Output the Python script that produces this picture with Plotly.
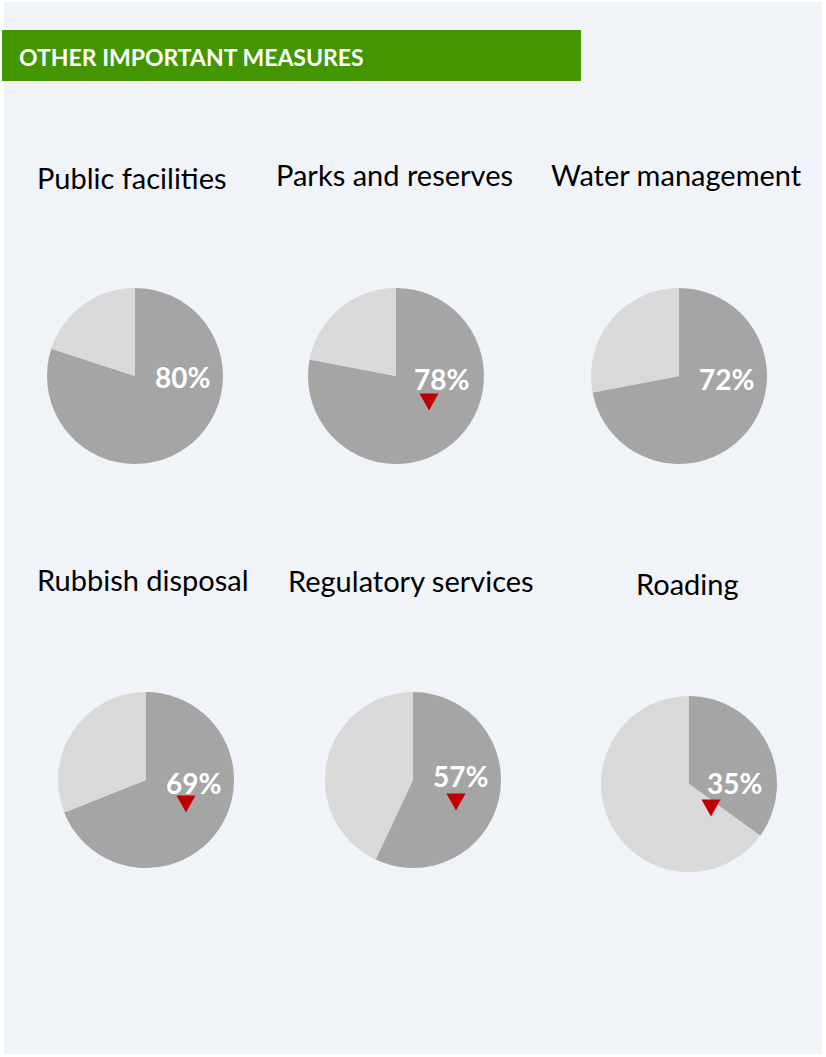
import plotly.graph_objects as go

W, H = 826, 1057

# data
measures = ["Public facilities", "Parks and reserves", "Water management",
            "Rubbish disposal", "Regulatory services", "Roading"]
satisfied = [80, 78, 72, 69, 57, 35]
declined = [False, True, False, True, True, True]

header = "OTHER IMPORTANT MEASURES"

# layout (pixels)
centers = [(135, 376), (396, 376), (679, 376), (146, 780), (413, 780), (689, 784)]
radius = 88
title_pos = [(132, 177), (394, 175), (676, 175), (143, 579), (411, 580), (687, 583)]
label_off = [(47, 1), (45, 3), (47, 3), (47, 3), (47, -4), (45, -1)]
tri_off = [(35, 25), (33, 26), (35, 25), (40, 24), (43, 22), (22, 24)]
TRI_W, TRI_H = 19, 17

DARK = "#A5A5A5"
LIGHT = "#D9D9D9"
FONT = "Lato"


def px(x):
    return x / W


def py(y):
    return 1 - y / H


fig = go.Figure()

for name, val, (cx, cy) in zip(measures, satisfied, centers):
    fig.add_trace(go.Pie(
        values=[val, 100 - val],
        labels=["Satisfied", "Other"],
        sort=False,
        direction="clockwise",
        rotation=0,
        marker=dict(colors=[DARK, LIGHT], line=dict(width=0)),
        textinfo="none",
        hoverinfo="label+percent",
        showlegend=False,
        domain=dict(x=[px(cx - radius), px(cx + radius)],
                    y=[py(cy + radius), py(cy - radius)]),
    ))

annotations = []
for name, val, (cx, cy), (tx, ty), (lx, ly) in zip(measures, satisfied, centers, title_pos, label_off):
    annotations.append(dict(
        x=px(tx), y=py(ty), xref="paper", yref="paper", text=name,
        showarrow=False, xanchor="center", yanchor="middle",
        font=dict(family=FONT, size=29, color="#000000"),
    ))
    annotations.append(dict(
        x=px(cx + lx), y=py(cy + ly), xref="paper", yref="paper", text=f"<b>{val}%</b>",
        showarrow=False, xanchor="center", yanchor="middle",
        font=dict(family=FONT, size=28, color="#FFFFFF"),
    ))

annotations.append(dict(
    x=px(17), y=py(57), xref="paper", yref="paper", text=f"<b>{header}</b>",
    showarrow=False, xanchor="left", yanchor="middle",
    font=dict(family=FONT, size=23, color="#FFFFFF"),
))

shapes = [
    dict(type="rect", xref="paper", yref="paper", x0=px(4), x1=px(822), y0=py(1054), y1=py(2),
         fillcolor="#F0F3F8", line=dict(width=0), layer="below"),
    dict(type="rect", xref="paper", yref="paper", x0=px(2), x1=px(581), y0=py(81), y1=py(30),
         fillcolor="#449600", line=dict(width=0), layer="below"),
]

# red down-arrows for measures that declined
for (cx, cy), (dx, dy), down in zip(centers, tri_off, declined):
    if not down:
        continue
    x, y = cx + dx, cy + dy
    top, bot = y - TRI_H / 2, y + TRI_H / 2
    shapes.append(dict(
        type="path", xref="x", yref="y", layer="above",
        path=f"M {x - TRI_W / 2},{top} L {x + TRI_W / 2},{top} L {x},{bot} Z",
        fillcolor="#C00000", line=dict(width=0),
    ))

fig.update_layout(
    width=W, height=H,
    margin=dict(l=0, r=0, t=0, b=0),
    paper_bgcolor="#FFFFFF",
    plot_bgcolor="rgba(0,0,0,0)",
    xaxis=dict(range=[0, W], visible=False, domain=[0, 1], fixedrange=True),
    yaxis=dict(range=[H, 0], visible=False, domain=[0, 1], fixedrange=True),
    annotations=annotations,
    shapes=shapes,
)

fig.write_html("out.html", config={"displayModeBar": False},
               post_script="document.body.style.margin='0';")
